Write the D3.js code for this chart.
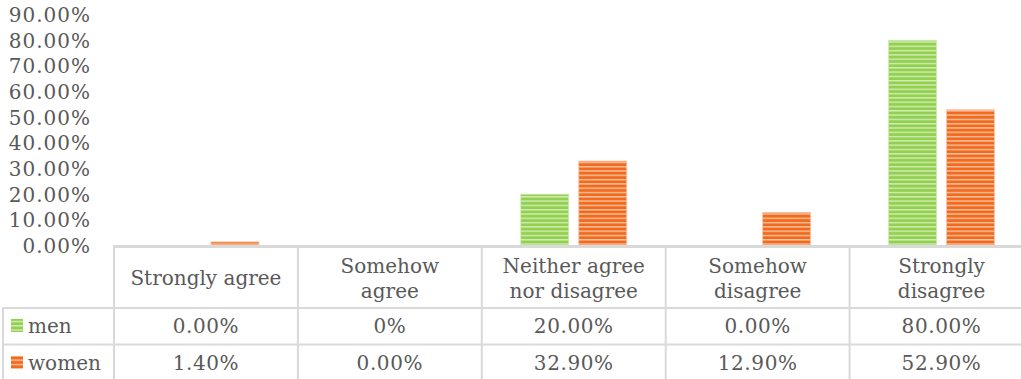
<!DOCTYPE html>
<html><head><meta charset="utf-8">
<script src="https://cdn.jsdelivr.net/npm/d3@7"></script>
<style>
html,body{margin:0;padding:0;background:#fff;overflow:hidden;}
text{font-family:"DejaVu Serif",Georgia,serif;fill:#595959;}
</style></head>
<body><svg id="c" width="1021" height="379"></svg>
<script>
const categories = [["Strongly agree"],["Somehow","agree"],["Neither agree","nor disagree"],["Somehow","disagree"],["Strongly","disagree"]];
const seriesNames = ["men","women"];
const menValues = [0, 0, 20, 0, 80];
const womenValues = [1.4, 0, 32.9, 12.9, 52.9];
const menLabels = ["0.00%","0%","20.00%","0.00%","80.00%"];
const womenLabels = ["1.40%","0.00%","32.90%","12.90%","52.90%"];
const yTicks = [0,10,20,30,40,50,60,70,80,90];
const colors = {men:"#92d050", women:"#f26b1d"};
const lightColors = {men:"#d3ecb4", women:"#f9c3a3"};

(function(){
const svg = d3.select("#c");
const W = 1021, H = 379;
const pLeft = 114, pRight = 1033.5, pBase = 245.5, pTop = 14.6;
const catIdx = d3.range(categories.length);
const x = d3.scaleBand().domain(catIdx).range([pLeft, pRight]).paddingInner(0).paddingOuter(0);
const y = d3.scaleLinear().domain([0, 90]).range([pBase, pTop]);
const xs = d3.scaleBand().domain(seriesNames).range([x.bandwidth()/2 - 53, x.bandwidth()/2 + 53]).paddingInner(10/58).paddingOuter(0);

// patterns
const defs = svg.append("defs");
seriesNames.forEach(s => {
  const p = defs.append("pattern").attr("id","pat-"+s).attr("patternUnits","userSpaceOnUse")
    .attr("width",8).attr("height",4.3).attr("y", 0);
  p.append("rect").attr("width",8).attr("height",4.3).attr("fill",colors[s]);
  p.append("rect").attr("y",2.6).attr("width",8).attr("height",1.4).attr("fill",lightColors[s]);
});

// y axis labels
const yAxis = d3.axisLeft(y).tickValues(yTicks).tickFormat(d => d.toFixed(2) + "%").tickSize(0).tickPadding(0);
const ga = svg.append("g").attr("transform","translate(91,0)").call(yAxis);
ga.select(".domain").remove();
ga.selectAll("text").attr("font-family","DejaVu Serif, serif").attr("font-size",20).attr("letter-spacing","1px").attr("fill","#595959").attr("dy","0.35em");

// bars
const data = [];
catIdx.forEach(i => {
  data.push({i, s:"men", v:menValues[i]});
  data.push({i, s:"women", v:womenValues[i]});
});
svg.append("g").selectAll("rect").data(data.filter(d=>d.v>0)).join("rect")
  .attr("x", d => x(d.i) + xs(d.s))
  .attr("y", d => y(d.v))
  .attr("width", xs.bandwidth())
  .attr("height", d => y(0) - y(d.v))
  .attr("fill", d => "url(#pat-"+d.s+")")
  .attr("stroke", d => lightColors[d.s]).attr("stroke-width",0.8);

// table lines
const grid = "#d9d9d9";
const rowTop = 246.5, row1 = 308, row2 = 344.5;
svg.append("line").attr("x1",pLeft-1).attr("x2",W).attr("y1",pBase+1).attr("y2",pBase+1).attr("stroke",grid).attr("stroke-width",3);
const vlines = catIdx.map(i => x(i)).concat([pRight]);
svg.append("g").selectAll("line").data(vlines).join("line")
  .attr("x1",d=>d).attr("x2",d=>d).attr("y1",rowTop).attr("y2",H)
  .attr("stroke",grid).attr("stroke-width",2);
svg.append("line").attr("x1",3).attr("x2",3).attr("y1",row1).attr("y2",H).attr("stroke",grid).attr("stroke-width",2);
[row1,row2].forEach(yy => svg.append("line").attr("x1",2).attr("x2",W).attr("y1",yy).attr("y2",yy).attr("stroke",grid).attr("stroke-width",2));

// header labels
const fs = 20;
const hg = svg.append("g");
catIdx.forEach(i => {
  const lines = categories[i];
  const cx = x(i) + x.bandwidth()/2;
  const t = hg.append("text").attr("text-anchor","middle").attr("font-size",fs);
  if (lines.length === 1) {
    t.append("tspan").attr("x",cx).attr("y",284.5).text(lines[0]);
  } else {
    lines.forEach((l,k) => t.append("tspan").attr("x",cx).attr("y",273 + k*25).text(l));
  }
});

// data rows
const rows = [{s:"men", labels:menLabels, yb:332.5, my:319}, {s:"women", labels:womenLabels, yb:369.5, my:356}];
rows.forEach(r => {
  svg.append("g").selectAll("text").data(r.labels).join("text")
    .attr("x",(d,i)=>x(i)+x.bandwidth()/2).attr("y",r.yb)
    .attr("text-anchor","middle").attr("font-size",fs).attr("letter-spacing","0.6px").text(d=>d);
  svg.append("rect").attr("x",11).attr("y",r.my).attr("width",12).attr("height",13).attr("fill","url(#pat-"+r.s+")");
  svg.append("text").attr("x",28).attr("y",r.yb).attr("font-size",fs).text(r.s);
});
})();
</script></body></html>
